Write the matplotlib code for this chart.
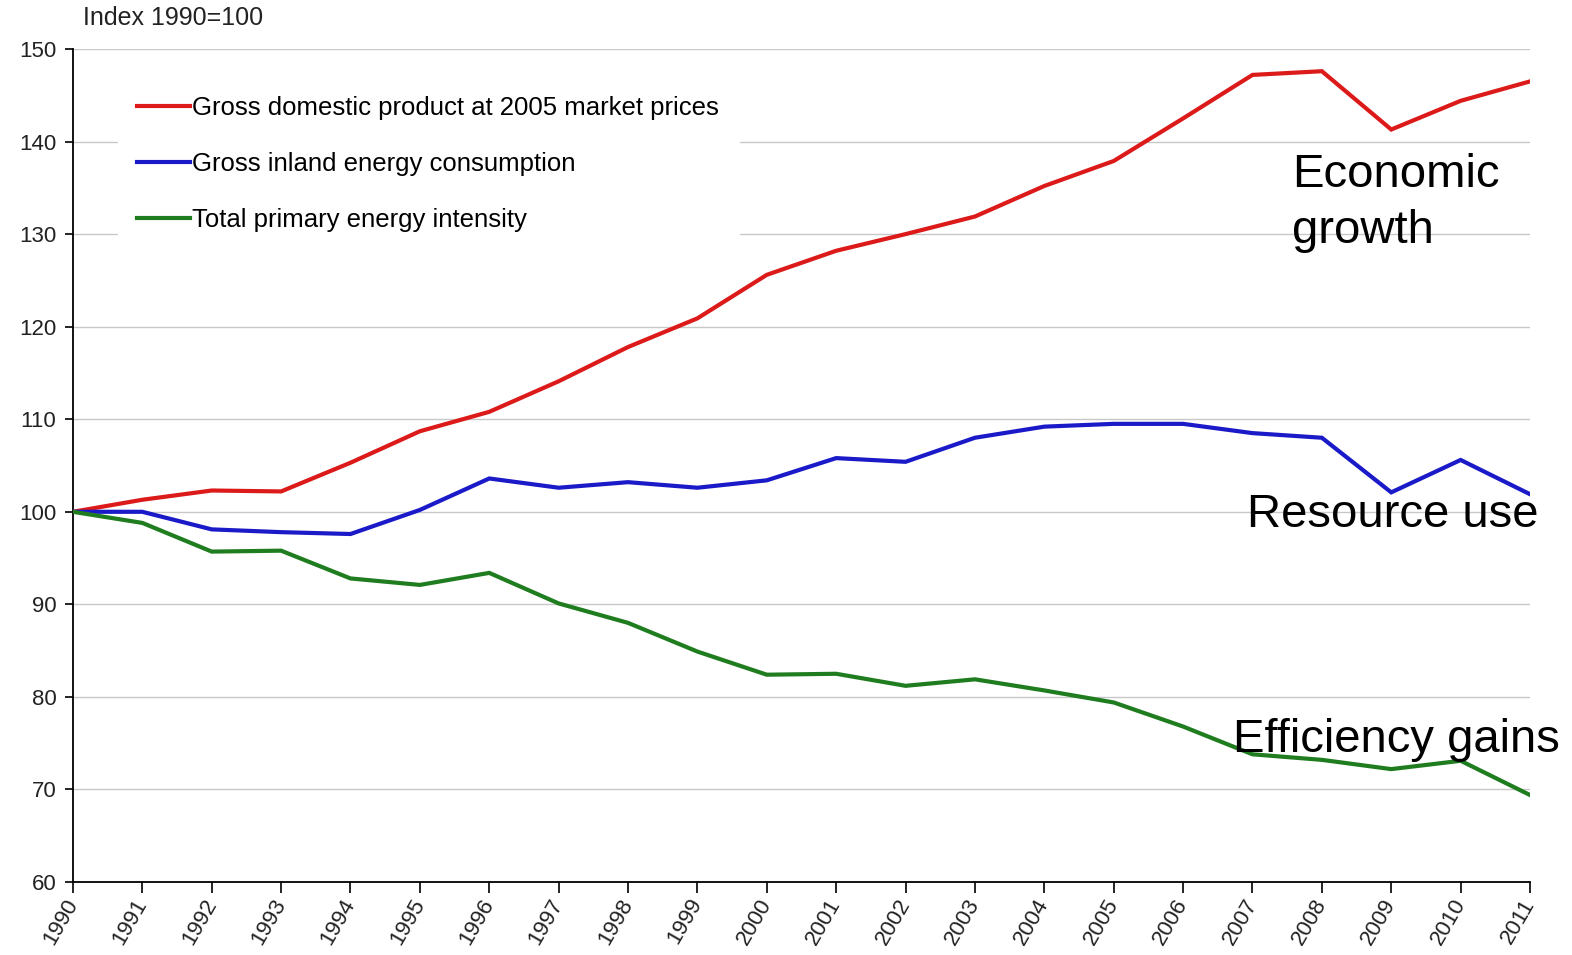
import numpy as np
import matplotlib.pyplot as plt

plt.rcParams['font.family'] = ['Liberation Sans', 'DejaVu Sans']

years = list(range(1990, 2012))

gdp = [100, 101.3, 102.3, 102.2, 105.3, 108.7, 110.8, 114.1, 117.8, 120.9, 125.6,
       128.2, 130.0, 131.9, 135.2, 137.9, 142.5, 147.2, 147.6, 141.3, 144.4, 146.5]
energy_use = [100, 100.0, 98.1, 97.8, 97.6, 100.2, 103.6, 102.6, 103.2, 102.6, 103.4,
              105.8, 105.4, 108.0, 109.2, 109.5, 109.5, 108.5, 108.0, 102.1, 105.6, 101.9]
intensity = [100, 98.8, 95.7, 95.8, 92.8, 92.1, 93.4, 90.1, 88.0, 84.9, 82.4,
             82.5, 81.2, 81.9, 80.7, 79.4, 76.8, 73.8, 73.2, 72.2, 73.1, 69.4]

series_names = ['Gross domestic product at 2005 market prices',
                'Gross inland energy consumption',
                'Total primary energy intensity']
series_colors = ['#dc1a1a', '#1a1ac8', '#1f7d1f']

fig = plt.figure(figsize=(15.72, 9.55), dpi=100)
ax = fig.add_axes([0.0464, 0.0764, 0.9269, 0.8723])

for vals, name, col in zip([gdp, energy_use, intensity], series_names, series_colors):
    ax.plot(years, vals, color=col, lw=3.0, label=name, solid_joinstyle='miter', zorder=3)

ax.set_xlim(1990, 2011)
ax.set_ylim(60, 150)
ax.set_yticks(np.arange(60, 151, 10))
ax.set_xticks(years)
ax.set_xticklabels([str(y) for y in years], rotation=60, ha='right', va='center',
                   rotation_mode='anchor', fontsize=16, color='#222222')
ax.tick_params(axis='y', labelsize=16, labelcolor='#222222', length=6, width=1.2, pad=6)
ax.tick_params(axis='x', length=8, width=1.2, pad=5)

ax.grid(axis='y', color='#c8c8c8', lw=1.0, zorder=0)
ax.set_axisbelow(True)
for side in ['top', 'right']:
    ax.spines[side].set_visible(False)
for side in ['left', 'bottom']:
    ax.spines[side].set_linewidth(1.3)

# white legend box hides the gridlines behind it
leg = ax.legend(loc='upper left', bbox_to_anchor=(0.022, 0.982), fontsize=18.5,
                handlelength=2.05, handletextpad=0.1, labelspacing=1.24,
                borderpad=0.75, frameon=True, fancybox=False, framealpha=1,
                facecolor='white', edgecolor='white')
leg.set_zorder(2)

fig.text(83 / 1572, 1 - 18 / 955, 'Index 1990=100', fontsize=18, va='center', ha='left',
         color='#222222')

ax.text(2007.57, 135.1, 'Economic', fontsize=34, ha='left', va='baseline')
ax.text(2007.57, 129.05, 'growth', fontsize=34, ha='left', va='baseline')
ax.text(2006.92, 98.4, 'Resource use', fontsize=34, ha='left', va='baseline', zorder=4)
ax.text(2006.72, 74.0, 'Efficiency gains', fontsize=34, ha='left', va='baseline', zorder=4)

fig.savefig('out.png', dpi=100)
